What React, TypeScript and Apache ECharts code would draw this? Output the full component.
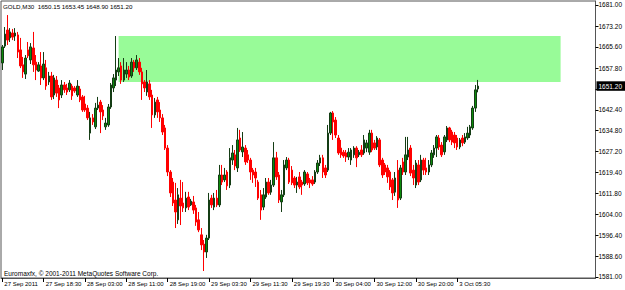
import React, { useEffect, useRef } from 'react';
import * as echarts from 'echarts';

const tickLabels = ['27 Sep 2011', '27 Sep 18:30', '28 Sep 03:00', '28 Sep 11:00', '28 Sep 19:00', '29 Sep 03:30', '29 Sep 11:30', '29 Sep 19:30', '30 Sep 04:00', '30 Sep 12:00', '30 Sep 20:00', '3 Oct 05:30'];
const BARS_PER_LABEL = 16;
const TOTAL_SLOTS = 230;

const opens = [
  1659.7, 1665.9, 1671.8, 1668.9, 1670.7, 1669.6, 1670.0, 1664.5, 1659.0, 1655.6,
  1664.5, 1660.8, 1665.2, 1660.0, 1656.7, 1658.6, 1654.2, 1657.9, 1652.7, 1654.9,
  1647.9, 1653.4, 1650.5, 1647.9, 1651.6, 1650.5, 1649.8, 1651.2, 1650.5, 1647.9,
  1650.1, 1647.2, 1644.6, 1643.1, 1633.9, 1639.5, 1636.2, 1643.1, 1645.3, 1642.4,
  1636.2, 1636.9, 1643.5, 1650.5, 1653.4, 1656.4, 1658.6, 1653.4, 1655.6, 1657.1,
  1654.9, 1660.0, 1657.9, 1660.0, 1656.4, 1652.7, 1649.0, 1652.0, 1647.9, 1640.6,
  1646.1, 1642.4, 1639.5, 1635.8, 1628.4, 1619.6, 1615.9, 1609.3, 1602.0, 1610.0,
  1608.2, 1606.4, 1610.4, 1607.5, 1608.6, 1606.4, 1602.0, 1596.5, 1593.1, 1590.2,
  1595.3, 1610.0, 1606.7, 1610.0, 1607.5, 1618.5, 1616.7, 1619.6, 1614.8, 1624.0,
  1625.9, 1621.1, 1632.1, 1627.0, 1628.4, 1625.9, 1624.0, 1620.3, 1619.6, 1615.9,
  1611.2, 1606.7, 1610.4, 1615.9, 1612.2, 1614.8, 1624.8, 1618.5, 1608.6, 1611.2,
  1621.1, 1624.0, 1620.3, 1617.4, 1614.8, 1617.8, 1615.9, 1615.2, 1618.9, 1616.7,
  1616.7, 1615.9, 1619.6, 1622.9, 1624.8, 1621.1, 1620.3, 1633.9, 1641.3, 1638.7,
  1632.1, 1628.4, 1626.9, 1626.6, 1625.1, 1624.0, 1625.9, 1628.4, 1625.9, 1627.7,
  1626.6, 1628.4, 1626.9, 1633.9, 1630.3, 1628.8, 1631.4, 1624.0, 1622.2, 1621.1,
  1619.6, 1616.7, 1612.2, 1620.3, 1610.0, 1623.3, 1619.6, 1625.1, 1628.4, 1620.3,
  1614.8, 1622.2, 1616.7, 1624.0, 1621.1, 1619.6, 1622.2, 1625.9, 1628.4, 1632.1,
  1629.5, 1627.0, 1631.4, 1635.8, 1634.3, 1633.2, 1632.1, 1628.8, 1632.1, 1630.6,
  1632.1, 1633.2, 1635.8, 1643.1, 1650.15,
];
const closes = [
  1665.6, 1670.3, 1668.1, 1671.1, 1669.2, 1670.7, 1663.7, 1658.6, 1656.4, 1661.5,
  1662.3, 1665.6, 1659.0, 1657.1, 1659.0, 1654.2, 1659.3, 1651.2, 1654.9, 1647.2,
  1654.2, 1648.6, 1646.1, 1651.6, 1649.8, 1649.0, 1652.3, 1647.6, 1649.4, 1651.2,
  1646.1, 1642.4, 1642.4, 1639.5, 1639.5, 1638.0, 1643.1, 1644.2, 1641.7, 1640.2,
  1637.6, 1643.5, 1651.6, 1654.2, 1657.1, 1657.9, 1653.4, 1657.1, 1657.1, 1654.5,
  1660.0, 1657.9, 1660.8, 1656.4, 1652.0, 1650.5, 1652.7, 1647.2, 1640.6, 1645.3,
  1641.7, 1639.5, 1634.3, 1628.4, 1619.6, 1611.9, 1608.2, 1604.9, 1611.2, 1607.1,
  1606.4, 1610.0, 1606.7, 1608.9, 1605.6, 1601.2, 1598.3, 1592.8, 1590.2, 1595.3,
  1609.3, 1607.5, 1610.0, 1607.5, 1618.5, 1615.9, 1618.5, 1614.5, 1624.8, 1626.6,
  1621.8, 1631.4, 1627.7, 1628.8, 1623.3, 1624.0, 1619.6, 1618.5, 1617.4, 1610.0,
  1605.6, 1611.2, 1615.9, 1611.9, 1614.8, 1624.8, 1617.8, 1609.3, 1611.2, 1622.2,
  1624.0, 1615.9, 1615.6, 1614.8, 1615.9, 1614.1, 1614.8, 1619.6, 1615.6, 1615.6,
  1615.2, 1619.6, 1622.9, 1624.8, 1619.6, 1618.5, 1633.9, 1641.3, 1638.0, 1633.2,
  1626.6, 1625.9, 1625.5, 1625.1, 1626.9, 1627.7, 1628.4, 1624.8, 1626.9, 1625.9,
  1631.4, 1630.3, 1633.9, 1627.7, 1628.4, 1632.1, 1622.2, 1618.5, 1619.6, 1617.8,
  1614.1, 1611.9, 1617.4, 1609.3, 1621.1, 1619.6, 1625.9, 1627.7, 1619.2, 1617.4,
  1622.9, 1615.9, 1624.0, 1620.3, 1619.6, 1622.2, 1626.6, 1628.4, 1632.5, 1628.8,
  1625.9, 1632.5, 1635.8, 1631.4, 1630.6, 1630.3, 1628.8, 1631.4, 1630.3, 1632.5,
  1633.9, 1636.2, 1643.1, 1649.8, 1651.2,
];
const lows = [
  1657.1, 1665.2, 1666.3, 1667.4, 1668.1, 1667.8, 1661.5, 1657.8, 1654.2, 1653.8,
  1661.5, 1659.3, 1656.4, 1653.4, 1656.4, 1651.6, 1653.4, 1649.8, 1651.6, 1646.1,
  1646.4, 1647.2, 1643.1, 1646.8, 1648.7, 1647.9, 1649.0, 1646.1, 1648.7, 1647.2,
  1645.3, 1641.7, 1641.7, 1638.7, 1631.4, 1636.9, 1635.4, 1642.4, 1633.9, 1638.7,
  1635.1, 1636.2, 1642.8, 1649.0, 1651.2, 1654.9, 1652.0, 1652.7, 1654.2, 1653.4,
  1654.2, 1656.4, 1657.1, 1655.3, 1646.1, 1649.0, 1647.6, 1646.1, 1635.8, 1639.5,
  1639.5, 1638.0, 1633.2, 1627.7, 1618.1, 1610.4, 1607.1, 1599.0, 1600.5, 1600.1,
  1604.9, 1604.9, 1605.6, 1607.1, 1604.2, 1599.8, 1597.5, 1590.9, 1583.2, 1588.0,
  1594.6, 1606.4, 1605.6, 1606.7, 1606.7, 1614.8, 1615.9, 1613.0, 1613.7, 1622.2,
  1620.3, 1619.6, 1627.0, 1625.1, 1622.2, 1622.9, 1616.7, 1615.6, 1614.1, 1609.3,
  1602.0, 1605.6, 1609.7, 1611.2, 1611.2, 1614.1, 1616.7, 1608.2, 1604.9, 1610.4,
  1620.3, 1615.2, 1614.8, 1613.7, 1611.9, 1613.3, 1611.2, 1614.5, 1614.8, 1613.7,
  1614.5, 1615.2, 1618.9, 1621.8, 1617.4, 1617.4, 1619.6, 1633.2, 1631.4, 1632.1,
  1625.9, 1624.8, 1624.8, 1623.3, 1624.0, 1622.2, 1624.8, 1621.4, 1625.1, 1625.1,
  1625.9, 1626.9, 1625.9, 1626.9, 1627.7, 1627.7, 1621.4, 1617.4, 1618.5, 1615.6,
  1613.0, 1609.3, 1610.8, 1606.4, 1609.3, 1618.5, 1618.5, 1624.0, 1618.1, 1614.8,
  1613.7, 1614.8, 1615.9, 1618.5, 1618.5, 1618.5, 1621.4, 1624.8, 1625.1, 1627.7,
  1625.1, 1625.9, 1630.6, 1630.6, 1629.5, 1628.4, 1627.7, 1628.0, 1629.1, 1629.9,
  1631.4, 1632.1, 1635.1, 1641.7, 1648.9,
];
const highs = [
  1666.3, 1672.9, 1677.3, 1672.5, 1672.2, 1672.5, 1671.1, 1668.9, 1661.9, 1662.6,
  1667.4, 1667.0, 1671.1, 1662.6, 1660.0, 1663.7, 1663.7, 1660.8, 1656.4, 1656.4,
  1655.3, 1654.9, 1651.6, 1653.4, 1652.7, 1652.0, 1653.4, 1652.0, 1651.2, 1653.4,
  1651.2, 1647.9, 1647.6, 1644.2, 1641.7, 1640.9, 1645.0, 1647.2, 1646.1, 1644.2,
  1639.5, 1644.6, 1652.3, 1655.6, 1669.6, 1661.5, 1660.0, 1661.5, 1660.0, 1658.6,
  1661.5, 1660.8, 1662.6, 1661.5, 1657.9, 1653.4, 1657.1, 1653.4, 1649.8, 1646.8,
  1647.2, 1645.3, 1640.9, 1636.9, 1629.5, 1620.3, 1617.4, 1615.6, 1613.7, 1616.7,
  1615.9, 1612.3, 1612.3, 1609.7, 1610.8, 1607.5, 1604.9, 1599.0, 1594.6, 1596.5,
  1611.9, 1611.2, 1611.9, 1613.0, 1622.2, 1622.2, 1621.1, 1620.3, 1628.4, 1629.5,
  1627.7, 1635.8, 1635.1, 1634.3, 1629.5, 1627.7, 1624.8, 1621.1, 1621.1, 1616.7,
  1613.0, 1613.7, 1617.4, 1617.4, 1616.7, 1630.6, 1627.0, 1619.6, 1613.0, 1624.0,
  1625.1, 1624.8, 1621.8, 1618.1, 1617.8, 1619.6, 1616.7, 1620.3, 1619.6, 1617.4,
  1618.1, 1620.3, 1624.0, 1625.9, 1625.9, 1622.2, 1636.9, 1641.7, 1642.0, 1639.8,
  1633.2, 1631.4, 1627.7, 1627.7, 1628.4, 1628.4, 1629.1, 1629.1, 1627.7, 1629.5,
  1633.2, 1631.4, 1635.1, 1635.1, 1631.4, 1632.8, 1632.1, 1624.8, 1622.9, 1622.2,
  1620.3, 1617.4, 1619.6, 1624.0, 1622.2, 1624.8, 1632.5, 1632.5, 1629.5, 1622.2,
  1624.0, 1624.0, 1625.9, 1624.8, 1624.8, 1624.0, 1627.7, 1629.5, 1633.2, 1633.2,
  1630.6, 1633.2, 1636.5, 1636.2, 1635.1, 1634.3, 1633.2, 1632.1, 1633.2, 1633.9,
  1636.2, 1636.9, 1643.9, 1651.6, 1653.45,
];

const priceTickValues = [1581.0, 1588.6, 1596.4, 1604.0, 1611.8, 1619.4, 1627.2, 1634.8, 1642.4, 1650.0, 1657.8, 1665.6, 1673.2, 1681.0];
const priceLabelValues = [1581.0, 1588.6, 1596.4, 1604.0, 1611.8, 1619.4, 1627.2, 1634.8, 1642.4, 1657.8, 1665.6, 1673.2, 1681.0];
const zoneFromBar = 45;
const zoneToBar = 216;
const zoneTop = 1669.6;
const zoneBottom = 1652.7;
const lastPrice = 1651.2;
const titleText = 'GOLD,M30  1650.15 1653.45 1648.90 1651.20';
const footerText = 'Euromaxfx, \u00a9 2001-2011 MetaQuotes Software Corp.';

const FONT = 'Liberation Sans, Arial, sans-serif';
const FS = 6;
const FS_BIG = 6.5;

export default function App() {
  const ref = useRef<HTMLDivElement>(null);
  useEffect(() => {
    if (!ref.current) return;
    const chart = echarts.init(ref.current, undefined, { renderer: 'svg' });
    const categories = Array.from({ length: TOTAL_SLOTS }, (_, i) => String(i));
    const candleData = opens.map((o, i) => [o, closes[i], lows[i], highs[i]]);
    const isLabelIdx = (i: number) => i % BARS_PER_LABEL === 0 && i / BARS_PER_LABEL < tickLabels.length;
    const option: any = {
      animation: false,
      backgroundColor: '#ffffff',
      grid: { left: 1, right: 24, top: 1, bottom: 12, show: true, borderColor: '#555555', borderWidth: 1 },
      xAxis: {
        type: 'category',
        data: categories,
        boundaryGap: true,
        axisLine: { show: true, lineStyle: { color: '#555555', width: 1 } },
        axisTick: { show: true, alignWithLabel: true, interval: (i: number) => isLabelIdx(i), length: 4, lineStyle: { color: '#000000' } },
        axisLabel: {
          interval: (i: number) => isLabelIdx(i),
          formatter: (_v: string, i: number) => (isLabelIdx(i) ? tickLabels[i / BARS_PER_LABEL] : ''),
          align: 'left',
          padding: [0, 0, 0, 2],
          margin: 3,
          fontSize: FS,
          fontFamily: FONT,
          color: '#000000',
        },
        splitLine: { show: false },
      },
      yAxis: {
        type: 'value',
        position: 'right',
        min: 1580.63,
        max: 1682.47,
        scale: true,
        axisLine: { show: true, lineStyle: { color: '#555555', width: 1 } },
        axisTick: { show: true, length: 3, customValues: priceTickValues, lineStyle: { color: '#000000' } },
        axisLabel: {
          customValues: priceLabelValues,
          formatter: (v: number) => v.toFixed(2),
          margin: 3,
          fontSize: FS_BIG,
          fontFamily: FONT,
          color: '#000000',
        },
        splitLine: { show: false },
      },
      series: [
        {
          type: 'line',
          data: [],
          z: 1,
          silent: true,
          markArea: {
            silent: true,
            itemStyle: { color: '#98fb98', opacity: 1 },
            data: [[{ xAxis: zoneFromBar, yAxis: zoneTop }, { xAxis: zoneToBar, yAxis: zoneBottom }]],
          },
        },
        {
          type: 'candlestick',
          data: candleData,
          z: 3,
          barWidth: 2,
          itemStyle: {
            color: '#0b8b0b',
            color0: '#ff0000',
            borderColor: '#143c14',
            borderColor0: '#ff0000',
            borderWidth: 1,
          },
          markLine: {
            silent: true,
            symbol: 'none',
            lineStyle: { color: 'rgba(0,0,0,0)', width: 0 },
            label: {
              show: true,
              position: 'end',
              formatter: lastPrice.toFixed(2),
              backgroundColor: '#000000',
              color: '#ffffff',
              fontSize: FS_BIG,
              fontFamily: FONT,
              padding: [1.5, 3, 1, 2],
              distance: 1,
            },
            data: [{ yAxis: lastPrice }],
          },
        },
      ],
      graphic: [
        { type: 'text', left: 3, top: 3, style: { text: titleText, fontSize: 6.2, fontFamily: FONT, fill: '#000000' }, z: 10 },
        { type: 'text', left: 4, top: 270, style: { text: footerText, fontSize: FS_BIG, fontFamily: FONT, fill: '#000000' }, z: 10 },
      ],
    };
    chart.setOption(option);
    return () => chart.dispose();
  }, []);
  return <div ref={ref} style={{ position: 'fixed', left: 0, top: 0, width: 625, height: 290 }} />;
}
